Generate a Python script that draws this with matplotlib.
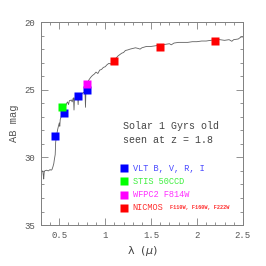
import matplotlib
matplotlib.use("Agg")
import matplotlib.pyplot as plt
from matplotlib.ticker import MultipleLocator

# model spectrum (wavelength in micron, AB mag)
spec_wave = [0.30, 0.31, 0.32, 0.325, 0.33, 0.335, 0.34, 0.36, 0.38, 0.40, 0.41,
             0.42, 0.43, 0.44, 0.445, 0.45, 0.455, 0.458, 0.46, 0.465, 0.47,
             0.48, 0.49, 0.50, 0.505, 0.51, 0.52, 0.53, 0.54, 0.55, 0.56, 0.57,
             0.58, 0.59, 0.60, 0.61, 0.62, 0.63, 0.64, 0.65, 0.655, 0.66, 0.665,
             0.67, 0.68, 0.69, 0.70, 0.705, 0.71, 0.72, 0.73, 0.74, 0.75, 0.76,
             0.77, 0.78, 0.785, 0.79, 0.795, 0.80, 0.82, 0.84, 0.86, 0.88, 0.90,
             0.92, 0.94, 0.96, 0.98, 1.00, 1.02, 1.04, 1.06, 1.08, 1.10, 1.12,
             1.14, 1.16, 1.18, 1.20, 1.22, 1.25, 1.27, 1.30, 1.33, 1.36, 1.38,
             1.40, 1.45, 1.50, 1.55, 1.60, 1.65, 1.70, 1.72, 1.75, 1.80, 1.85,
             1.90, 1.95, 2.00, 2.05, 2.10, 2.15, 2.20, 2.25, 2.30, 2.35, 2.38,
             2.40, 2.45, 2.48, 2.50]
spec_mag = [31.0, 31.05, 31.0, 31.3, 31.6, 31.1, 31.0, 30.95, 31.0, 30.9, 30.95,
            30.9, 30.7, 30.45, 30.2, 30.0, 29.8, 29.3, 28.9, 28.6, 28.4,
            28.0, 27.7, 27.45, 27.7, 27.2, 27.0, 26.8, 26.6, 26.45, 26.3, 26.2,
            26.0, 25.9, 26.1, 25.8, 25.8, 25.75, 25.9, 25.65, 25.6, 26.5, 25.7,
            25.6, 25.55, 25.5, 25.5, 26.1, 25.5, 25.4, 25.35, 25.3, 25.3, 25.2,
            25.2, 25.1, 26.3, 25.1, 24.7, 24.6, 24.3, 24.1, 23.95, 23.85, 23.7,
            23.8, 23.55, 23.5, 23.35, 23.3, 23.15, 23.05, 23.1, 22.9, 22.85, 22.65,
            22.5, 22.4, 22.3, 22.25, 22.1, 22.05, 22.0, 21.95, 21.9, 21.95, 22.0,
            21.9, 21.8, 21.8, 21.75, 21.7, 21.65, 21.6, 21.68, 21.55, 21.5, 21.5,
            21.5, 21.45, 21.45, 21.4, 21.4, 21.35, 21.3, 21.3, 21.35, 21.3, 21.42,
            21.3, 21.25, 21.1, 21.1]

# photometric points
vlt_wave = [0.45, 0.55, 0.70, 0.80]
vlt_mag = [28.4, 26.7, 25.5, 25.0]
stis_wave = [0.53]
stis_mag = [26.25]
wfpc2_wave = [0.80]
wfpc2_mag = [24.55]
nicmos_wave = [1.10, 1.60, 2.20]
nicmos_mag = [22.85, 21.86, 21.37]

legend_labels = ["VLT B, V, R, I", "STIS 50CCD", "WFPC2 F814W", "NICMOS"]
legend_colors = ["blue", "lime", "magenta", "red"]
legend_text_colors = ["#4a4aff", "#40f040", "#ff30ff", "#ff3030"]

mono = "Liberation Mono"
grey = "#808080"

fig = plt.figure(figsize=(2.66, 2.66), dpi=100)
ax = fig.add_axes([0.154, 0.154, 0.759, 0.763])

ax.plot(spec_wave, spec_mag, color="#606060", lw=0.6)

ms = 5.3
ax.plot(vlt_wave, vlt_mag, "s", color="blue", ms=ms, mec="none")
ax.plot(stis_wave, stis_mag, "s", color="lime", ms=ms, mec="none")
ax.plot(wfpc2_wave, wfpc2_mag, "s", color="magenta", ms=ms, mec="none")
ax.plot(nicmos_wave, nicmos_mag, "s", color="red", ms=ms, mec="none")

ax.set_xlim(0.3, 2.5)
ax.set_ylim(35, 20)
ax.xaxis.set_major_locator(MultipleLocator(0.5))
ax.xaxis.set_minor_locator(MultipleLocator(0.1))
ax.yaxis.set_major_locator(MultipleLocator(5))
ax.yaxis.set_minor_locator(MultipleLocator(1))
ax.set_xticks([0.5, 1, 1.5, 2, 2.5])
ax.set_xticklabels(["0.5", "1", "1.5", "2", "2.5"])
ax.tick_params(which="both", direction="in", top=True, right=True, color=grey,
               labelcolor="#555555", labelsize=6.5, pad=4)
ax.tick_params(which="major", length=5, width=0.6)
ax.tick_params(which="minor", length=2.5, width=0.6)
for lab in ax.get_xticklabels() + ax.get_yticklabels():
    lab.set_family(mono)
for sp in ax.spines.values():
    sp.set_color(grey)
    sp.set_linewidth(0.7)

plt.rcParams["mathtext.fontset"] = "cm"
ax.set_xlabel(r"$\mathrm{\lambda}\ \ (\mu)$", fontsize=8, color="#444444", labelpad=3)
ax.set_ylabel("AB mag", family=mono, fontsize=7.5, color="#555555", labelpad=4)

ax.text(0.406, 0.488, "Solar 1 Gyrs old", transform=ax.transAxes, family=mono,
        fontsize=7.2, color="#444444", va="center", ha="left")
ax.text(0.406, 0.419, "seen at z = 1.8", transform=ax.transAxes, family=mono,
        fontsize=7.2, color="#444444", va="center", ha="left")

leg_y = [0.281, 0.215, 0.149, 0.084]
for label, col, tcol, y in zip(legend_labels, legend_colors, legend_text_colors, leg_y):
    ax.plot([0.411], [y], "s", color=col, ms=ms, mec="none", transform=ax.transAxes)
    ax.text(0.455, y, label, transform=ax.transAxes, family=mono, fontsize=6.2,
            color=tcol, va="center", ha="left")
ax.text(0.64, 0.084, "F110W, F160W, F222W", transform=ax.transAxes, family=mono,
        fontsize=3.8, fontweight="bold", color="#ff3030", va="center", ha="left")

fig.savefig("out.png", dpi=100)
